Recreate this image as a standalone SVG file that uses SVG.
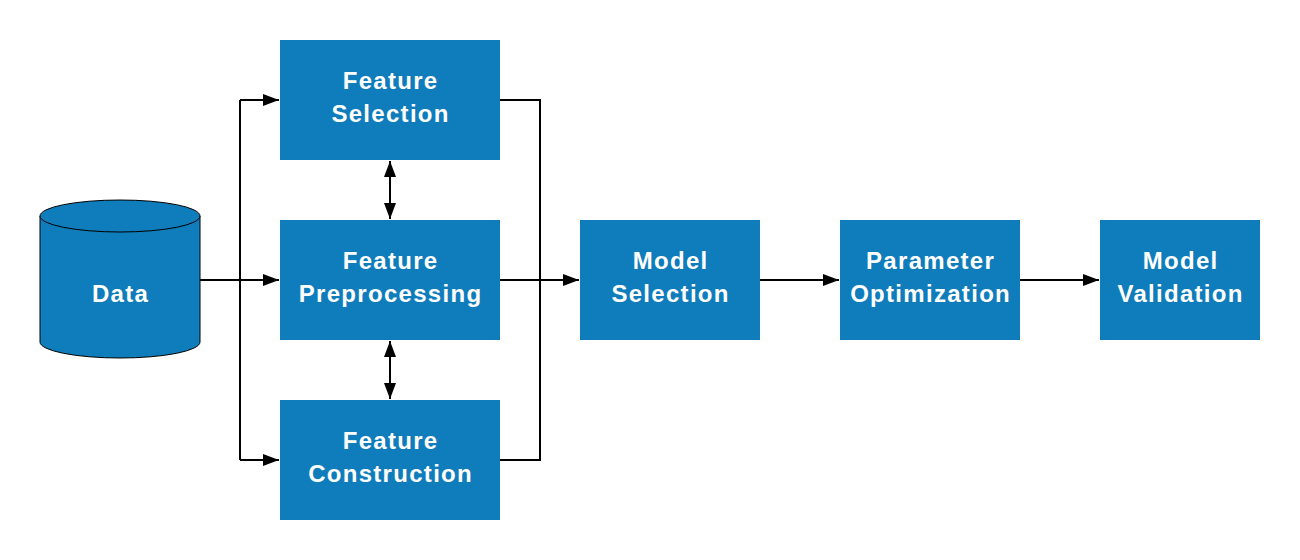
<svg xmlns="http://www.w3.org/2000/svg" width="1300" height="560" viewBox="0 0 1300 560">
<style>
.box{fill:#0F7CBB;}
.t{font-family:"Liberation Sans",Arial,sans-serif;font-weight:bold;font-size:24px;letter-spacing:1.3px;fill:#fff;text-anchor:middle;}
.c{fill:none;stroke:#000;stroke-width:2;}
</style>
<defs>
<marker id="ah" markerWidth="16" markerHeight="12" refX="16" refY="6" orient="auto-start-reverse" markerUnits="userSpaceOnUse">
<path d="M0,0 L16,6 L0,12 Z" fill="#000"/>
</marker>
</defs>
<rect width="1300" height="560" fill="#fff"/>
<g id="connectors">
<path class="c" d="M200,280 H279" marker-end="url(#ah)"/>
<path class="c" d="M240,100 V460"/>
<path class="c" d="M240,100 H279" marker-end="url(#ah)"/>
<path class="c" d="M240,460 H279" marker-end="url(#ah)"/>
<path class="c" d="M500,100 H540 V460 H500"/>
<path class="c" d="M500,280 H579" marker-end="url(#ah)"/>
<path class="c" d="M390,161 V219" marker-start="url(#ah)" marker-end="url(#ah)"/>
<path class="c" d="M390,341 V399" marker-start="url(#ah)" marker-end="url(#ah)"/>
<path class="c" d="M760,280 H839" marker-end="url(#ah)"/>
<path class="c" d="M1020,280 H1099" marker-end="url(#ah)"/>
</g>
<g id="data">
<path d="M40,216 V342 A80,16 0 0 0 200,342 V216" fill="#0F7CBB" stroke="#000" stroke-width="1"/>
<ellipse cx="120" cy="216" rx="80" ry="16" fill="#0F7CBB" stroke="#000" stroke-width="1"/>
<text class="t" x="120.6" y="302">Data</text>
</g>
<g id="feature-selection">
<rect class="box" x="280" y="40" width="220" height="120"/>
<text class="t" x="390.6" y="89">Feature</text>
<text class="t" x="390.6" y="122">Selection</text>
</g>
<g id="feature-preprocessing">
<rect class="box" x="280" y="220" width="220" height="120"/>
<text class="t" x="390.6" y="269">Feature</text>
<text class="t" x="390.6" y="302">Preprocessing</text>
</g>
<g id="feature-construction">
<rect class="box" x="280" y="400" width="220" height="120"/>
<text class="t" x="390.6" y="449">Feature</text>
<text class="t" x="390.6" y="482">Construction</text>
</g>
<g id="model-selection">
<rect class="box" x="580" y="220" width="180" height="120"/>
<text class="t" x="670.6" y="269">Model</text>
<text class="t" x="670.6" y="302">Selection</text>
</g>
<g id="parameter-optimization">
<rect class="box" x="840" y="220" width="180" height="120"/>
<text class="t" x="930.6" y="269">Parameter</text>
<text class="t" x="930.6" y="302">Optimization</text>
</g>
<g id="model-validation">
<rect class="box" x="1100" y="220" width="160" height="120"/>
<text class="t" x="1180.6" y="269">Model</text>
<text class="t" x="1180.6" y="302">Validation</text>
</g>
</svg>
